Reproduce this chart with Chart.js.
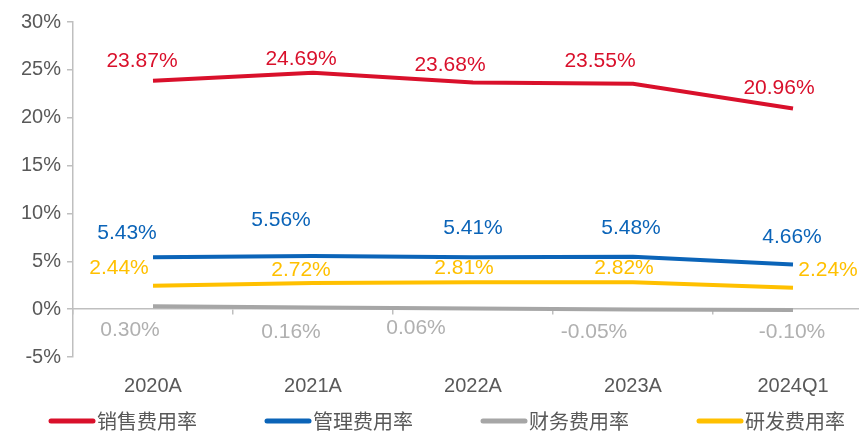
<!DOCTYPE html>
<html>
<head>
<meta charset="utf-8">
<script src="https://cdn.jsdelivr.net/npm/chart.js@4"></script>
<style>
    html, body { margin: 0; padding: 0; background: #fff; overflow: hidden; }
    #frame { width: 859px; height: 438px; overflow: hidden; position: relative; }
    #wrap { width: 873px; height: 438px; }
</style>
</head>
<body>
<div id="frame"><div id="wrap"><canvas id="rateChart"></canvas></div></div>
<script>
// =====================
// Data
// =====================
const categories = ['2020A', '2021A', '2022A', '2023A', '2024Q1'];
const seriesNames = ['销售费用率', '管理费用率', '财务费用率', '研发费用率'];
const salesRate = [23.87, 24.69, 23.68, 23.55, 20.96];
const adminRate = [5.43, 5.56, 5.41, 5.48, 4.66];
const financeRate = [0.30, 0.16, 0.06, -0.05, -0.10];
const rdRate = [2.44, 2.72, 2.81, 2.82, 2.24];
const yMin = -5, yMax = 30, yStep = 5;

// =====================
// Styles
// =====================
const lineColors = ['#d9102b', '#0b64b8', '#a6a6a6', '#ffc000'];
const labelColors = ['#d9102b', '#0b64b8', '#b0b0b0', '#ffc000'];
const axisColor = '#bfbfbf';
const textColor = '#595959';
const numFont = '"Liberation Sans", Arial, sans-serif';
const cjkFont = '"Noto Sans CJK SC", sans-serif';

// label placement relative to each point [dx, dy]
const labelOffsets = [
    [[-11, -19], [-12, -14], [-23, -17], [-33, -23], [-14, -20]],
    [[-26, -24], [-32, -36], [0, -29], [-2, -28], [-1, -27]],
    [[-23, 24], [-22, 25], [-57, 20], [-39, 23], [-1, 22]],
    [[-34, -18], [-12, -13], [-9, -14], [-9, -14], [35, -17]]
];

// value labels next to points
const valueLabels = {
    id: 'valueLabels',
    afterDatasetsDraw(chart) {
        const ctx = chart.ctx;
        ctx.save();
        ctx.font = '21px ' + numFont;
        ctx.textAlign = 'center';
        ctx.textBaseline = 'middle';
        chart.data.datasets.forEach((ds, di) => {
            const meta = chart.getDatasetMeta(di);
            meta.data.forEach((pt, i) => {
                const off = labelOffsets[di][i];
                ctx.fillStyle = labelColors[di];
                ctx.fillText(ds.data[i].toFixed(2) + '%', pt.x + off[0], pt.y + off[1]);
            });
        });
        ctx.restore();
    }
};

// bottom legend
const bottomLegend = {
    id: 'bottomLegend',
    afterDraw(chart) {
        const ctx = chart.ctx;
        ctx.save();
        chart.data.datasets.forEach((ds, i) => {
            const x0 = 48 + i * 216;
            const y = 421;
            ctx.strokeStyle = ds.borderColor;
            ctx.lineWidth = 5;
            ctx.lineCap = 'round';
            ctx.beginPath();
            ctx.moveTo(x0 + 3, y);
            ctx.lineTo(x0 + 45, y);
            ctx.stroke();
            ctx.fillStyle = textColor;
            ctx.font = '20px ' + cjkFont;
            ctx.textAlign = 'left';
            ctx.textBaseline = 'middle';
            ctx.fillText(ds.label, x0 + 49, y);
        });
        ctx.restore();
    }
};

function makeSet(i, values) {
    return {
        label: seriesNames[i],
        data: values,
        borderColor: lineColors[i],
        backgroundColor: lineColors[i],
        borderWidth: 4,
        pointRadius: 0,
        tension: 0,
        xAxisID: 'x',
        yAxisID: 'y'
    };
}

const ctx = document.getElementById('rateChart').getContext('2d');
const chart = new Chart(ctx, {
    type: 'line',
    data: {
        labels: categories,
        datasets: [
            makeSet(0, salesRate),
            makeSet(1, adminRate),
            makeSet(2, financeRate),
            makeSet(3, rdRate)
        ]
    },
    options: {
        responsive: true,
        maintainAspectRatio: false,
        animation: false,
        layout: { padding: { top: 22, right: 0, bottom: 35, left: 0 } },
        plugins: {
            legend: { display: false },
            tooltip: { enabled: false }
        },
        scales: {
            x: {
                type: 'category',
                position: 'bottom',
                offset: true,
                grid: { display: false },
                border: { display: false },
                ticks: { color: textColor, font: { size: 20, family: numFont }, padding: 9 },
                afterFit(s) { s.height = 46; }
            },
            x0: {
                type: 'category',
                labels: categories,
                position: { y: 0 },
                offset: true,
                grid: { offset: true, drawOnChartArea: false, drawTicks: true, tickLength: 5, color: axisColor, lineWidth: 1.5 },
                border: { color: axisColor, width: 1.5 },
                ticks: { display: false }
            },
            y: {
                min: yMin,
                max: yMax,
                ticks: {
                    stepSize: yStep,
                    color: textColor,
                    font: { size: 20, family: numFont },
                    padding: 6,
                    callback: v => v + '%'
                },
                grid: { drawOnChartArea: false, drawTicks: true, tickLength: 6, color: axisColor, lineWidth: 1.5 },
                border: { color: axisColor, width: 1.5 },
                afterFit(s) { s.width = 73; }
            }
        }
    },
    plugins: [valueLabels, bottomLegend]
});
</script>
</body>
</html>
